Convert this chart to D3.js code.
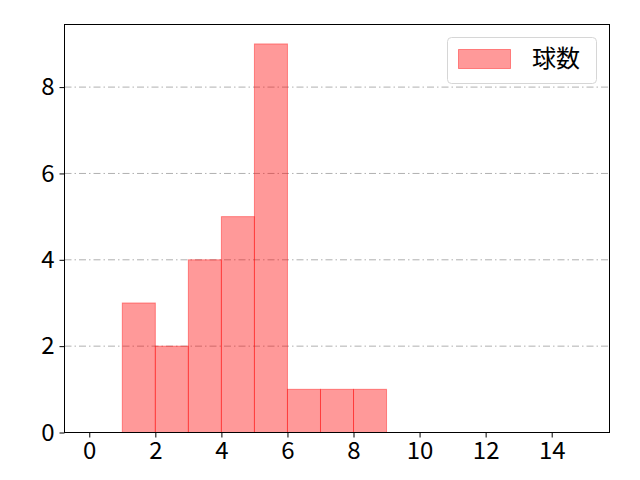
<!DOCTYPE html>
<meta charset="utf-8">
<head>
  <title>Histogram</title>
</head>
<style>
body { margin: 0; background: #fff; }
.bar {
  fill: red;
  fill-opacity: 0.4;
  stroke: red;
  stroke-opacity: 0.4;
  stroke-width: 1px;
}
.grid line {
  stroke: #b0b0b0;
  stroke-width: 1px;
  stroke-dasharray: 7,3,1.5,3;
}
</style>
<body>
  <svg width="640" height="480"></svg>
  <script src="https://cdnjs.cloudflare.com/ajax/libs/d3/7.8.5/d3.min.js"></script>
  <script>
// histogram bins (left edge) and counts
var binEdges = [0, 1, 2, 3, 4, 5, 6, 7, 8, 9, 10, 11, 12, 13, 14];
var counts   = [0, 3, 2, 4, 5, 9, 1, 1, 1, 0, 0, 0, 0, 0, 0];
var xTicks = [0, 2, 4, 6, 8, 10, 12, 14];
var yTicks = [0, 2, 4, 6, 8];
var seriesName = "球数";

var svg = d3.select("svg");
var m = {left: 64.5, right: 609.5, top: 24.5, bottom: 432.5};
var font = '"Noto Sans CJK JP", "Noto Sans", sans-serif';

var x = d3.scaleLinear().domain([-0.75, 15.75]).range([m.left, m.right]);
var y = d3.scaleLinear().domain([0, 9.45]).range([m.bottom, m.top]);

// grid lines (horizontal, dash-dot)
svg.append("g").attr("class", "grid")
  .selectAll("line")
  .data(yTicks.filter(function(d) { return d > 0; }))
  .enter().append("line")
  .attr("x1", m.left).attr("x2", m.right)
  .attr("y1", function(d) { return y(d); })
  .attr("y2", function(d) { return y(d); });

// bars
var bins = binEdges.map(function(e, i) { return {x0: e, x1: e + 1, n: counts[i]}; });
svg.append("g")
  .selectAll("rect")
  .data(bins.filter(function(d) { return d.n > 0; }))
  .enter().append("rect")
  .classed("bar", true)
  .attr("x", function(d) { return x(d.x0); })
  .attr("width", function(d) { return x(d.x1) - x(d.x0); })
  .attr("y", function(d) { return y(d.n); })
  .attr("height", function(d) { return y(0) - y(d.n); });

// axes
var xAxis = svg.append("g")
  .attr("transform", "translate(0," + m.bottom + ")")
  .call(d3.axisBottom(x).tickValues(xTicks).tickSize(5).tickPadding(3));
var yAxis = svg.append("g")
  .attr("transform", "translate(" + m.left + ",0)")
  .call(d3.axisLeft(y).tickValues(yTicks).tickSize(5).tickPadding(5));
[xAxis, yAxis].forEach(function(a) {
  a.select(".domain").remove();
  a.selectAll("line").attr("stroke", "#000").attr("stroke-width", 1);
  a.selectAll("text").attr("font-size", 24).attr("fill", "#000")
    .attr("font-family", font);
});
xAxis.selectAll("text").attr("dy", "0.78em");

// frame
svg.append("rect")
  .attr("x", m.left).attr("y", m.top)
  .attr("width", m.right - m.left).attr("height", m.bottom - m.top)
  .attr("fill", "none").attr("stroke", "#000").attr("stroke-width", 1);

// legend
var lg = svg.append("g");
lg.append("rect")
  .attr("x", 447.5).attr("y", 37.5).attr("width", 149).attr("height", 46)
  .attr("rx", 4).attr("fill", "#fff").attr("fill-opacity", 0.8)
  .attr("stroke", "#d6d6d6");
lg.append("rect").classed("bar", true)
  .attr("x", 458.5).attr("y", 49.5).attr("width", 52).attr("height", 19);
lg.append("text")
  .attr("x", 532).attr("y", 59).attr("dy", "0.35em")
  .attr("font-size", 24).attr("fill", "#000")
  .attr("font-family", font)
  .text(seriesName);
  </script>
</body>
</html>
